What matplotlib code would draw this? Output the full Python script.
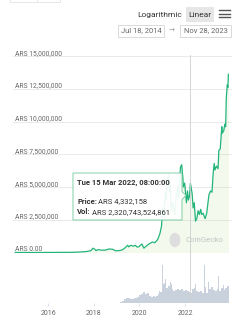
import matplotlib
matplotlib.use("Agg")
import matplotlib.pyplot as plt
import matplotlib.dates as mdates
from matplotlib.patches import Polygon, Rectangle, Circle
from matplotlib.transforms import offset_copy
from datetime import datetime
import numpy as np

plt.rcParams['font.family'] = ['Roboto', 'DejaVu Sans']

# ---------------- data ----------------
price_dates = [
    "2014-07-18", "2014-12-01", "2015-06-01", "2015-12-01", "2016-06-01", "2016-12-01",
    "2017-03-01", "2017-06-01", "2017-09-01", "2017-11-15", "2017-12-17", "2018-01-15",
    "2018-02-06", "2018-03-05", "2018-05-01", "2018-07-01", "2018-09-01", "2018-11-01",
    "2018-12-15", "2019-02-01", "2019-04-01", "2019-05-15", "2019-06-26", "2019-07-15",
    "2019-08-15", "2019-09-25", "2019-10-26", "2019-11-25", "2019-12-20", "2020-02-10",
    "2020-03-13", "2020-04-15", "2020-06-01", "2020-07-28", "2020-09-05", "2020-10-21",
    "2020-11-25", "2020-12-20", "2021-01-08", "2021-01-25", "2021-02-21", "2021-03-05",
    "2021-03-13", "2021-04-14", "2021-04-25", "2021-05-10", "2021-05-23", "2021-06-15",
    "2021-07-20", "2021-08-15", "2021-09-06", "2021-09-21", "2021-10-20", "2021-11-09",
    "2021-11-28", "2021-12-04", "2021-12-27", "2022-01-24", "2022-02-10", "2022-02-24",
    "2022-03-15", "2022-03-29", "2022-04-25", "2022-05-12", "2022-05-30", "2022-06-18",
    "2022-07-10", "2022-07-30", "2022-08-20", "2022-09-10", "2022-09-25", "2022-10-20",
    "2022-11-09", "2022-11-21", "2022-12-15", "2023-01-20", "2023-02-15", "2023-03-10",
    "2023-03-28", "2023-04-14", "2023-04-26", "2023-05-20", "2023-06-15", "2023-06-28",
    "2023-07-20", "2023-08-14", "2023-08-20", "2023-09-15", "2023-10-01", "2023-10-15",
    "2023-10-25", "2023-11-10", "2023-11-20", "2023-11-28",
]
price_values_m = [
    0.005, 0.003, 0.002, 0.004, 0.008, 0.013,
    0.02, 0.04, 0.07, 0.14, 0.33, 0.25,
    0.14, 0.22, 0.18, 0.18, 0.27, 0.24,
    0.13, 0.14, 0.20, 0.35, 0.55, 0.43,
    0.55, 0.48, 0.55, 0.42, 0.43, 0.65,
    0.33, 0.47, 0.65, 0.80, 0.75, 1.00,
    1.45, 2.00, 3.40, 2.80, 4.60, 4.00,
    5.40, 5.90, 4.60, 5.30, 3.20, 3.80,
    2.90, 4.40, 5.10, 4.10, 6.50, 6.70,
    5.70, 5.00, 5.30, 3.80, 4.70, 4.00,
    4.33, 5.30, 4.50, 3.40, 3.80, 2.40,
    2.60, 3.20, 2.90, 3.30, 2.90, 3.00,
    2.70, 2.60, 3.00, 4.40, 4.70, 4.60,
    6.00, 6.80, 6.30, 6.60, 6.40, 7.80,
    7.90, 9.60, 9.10, 9.30, 9.80, 9.60,
    11.80, 12.80, 12.60, 13.60,
]

vol_months = [
    "2019-02", "2019-03", "2019-04", "2019-05", "2019-06", "2019-07", "2019-08", "2019-09",
    "2019-10", "2019-11", "2019-12",
    "2020-01", "2020-02", "2020-03", "2020-04", "2020-05", "2020-06", "2020-07", "2020-08",
    "2020-09", "2020-10", "2020-11", "2020-12",
    "2021-01", "2021-02", "2021-03", "2021-04", "2021-05", "2021-06", "2021-07", "2021-08",
    "2021-09", "2021-10", "2021-11", "2021-12",
    "2022-01", "2022-02", "2022-03", "2022-04", "2022-05", "2022-06", "2022-07", "2022-08",
    "2022-09", "2022-10", "2022-11", "2022-12",
    "2023-01", "2023-02", "2023-03", "2023-04", "2023-05", "2023-06", "2023-07", "2023-08",
    "2023-09", "2023-10", "2023-11",
]
vol_values_t = [
    0.1, 0.3, 0.5, 0.8, 1.0, 1.0, 0.9, 0.9, 1.0, 1.1, 1.2,
    1.6, 1.8, 2.4, 1.9, 2.0, 1.4, 1.2, 1.4, 1.3, 1.4, 1.8, 2.3,
    4.0, 4.2, 3.2, 3.6, 4.0, 3.0, 2.6, 2.8, 2.9, 2.8, 2.9, 2.6,
    2.8, 2.5, 2.3, 2.2, 3.0, 3.2, 2.6, 2.4, 2.6, 2.2, 3.4, 2.0,
    3.0, 3.0, 3.4, 2.8, 2.6, 3.0, 2.6, 3.2, 2.8, 3.2, 3.6,
]
spike_dates = [
    "2020-03-12", "2020-11-20", "2021-01-05", "2021-01-12", "2021-02-22", "2021-03-15",
    "2021-04-18", "2021-05-12", "2021-05-19", "2021-06-21", "2021-07-20", "2021-09-07",
    "2021-12-04", "2022-01-21", "2022-05-09", "2022-06-13", "2022-06-18", "2022-09-13",
    "2022-11-09", "2022-11-14", "2023-01-14", "2023-02-20", "2023-03-13", "2023-05-01",
    "2023-06-21", "2023-08-17", "2023-09-11", "2023-10-24", "2023-11-09",
]
spike_values_t = [
    3.0, 2.5, 8.0, 5.5, 5.0, 4.0,
    6.0, 4.5, 6.2, 4.0, 4.6, 4.2,
    3.8, 3.8, 4.8, 5.2, 4.0, 3.6,
    8.0, 4.5, 4.5, 5.8, 6.4, 3.8,
    5.6, 5.4, 3.8, 8.2, 6.0,
]

ytick_values = [0, 2.5e6, 5e6, 7.5e6, 10e6, 12.5e6, 15e6]
ytick_labels = ["ARS 0.00", "ARS 2,500,000", "ARS 5,000,000", "ARS 7,500,000",
                "ARS 10,000,000", "ARS 12,500,000", "ARS 15,000,000"]
xtick_years = [2016, 2018, 2020, 2022]

tooltip_date = "2022-03-15"
tooltip_title = "Tue 15 Mar 2022, 08:00:00"
tooltip_price = "ARS 4,332,158"
tooltip_vol = "ARS 2,320,743,524,861"
range_start = "Jul 18, 2014"
range_end = "Nov 28, 2023"

# ---------------- layout helpers ----------------
W, H = 245, 320
fig = plt.figure(figsize=(W / 100, H / 100), dpi=100)
fig.patch.set_facecolor("white")

def fx(px):
    return px / W

def fy(py):
    return 1 - py / H

LINE = "#22b47a"
GRID = "#e6e6e6"
LAB = "#666666"
VOL = "#c9d1dd"

# x mapping (pixel anchors of year labels)
d16 = mdates.date2num(datetime(2016, 1, 1))
d22 = mdates.date2num(datetime(2022, 1, 1))
p16, p22 = 48.3, 185.0
ppd = (p22 - p16) / (d22 - d16)
AX_L, AX_R = 13, 232
xl = d16 - (p16 - AX_L) / ppd
xr = d16 + (AX_R - p16) / ppd

TOP, ZERO = 56.0, 252.5
VTOP, VBASE = 262.0, 303.0

ax = fig.add_axes([fx(AX_L), fy(ZERO), (AX_R - AX_L) / W, (ZERO - TOP) / H])
axv = fig.add_axes([fx(AX_L), fy(VBASE), (AX_R - AX_L) / W, (VBASE - VTOP) / H])
axo = fig.add_axes([fx(AX_L), fy(VBASE), (AX_R - AX_L) / W, (VBASE - 55) / H], zorder=5)

pdates = [datetime.strptime(d, "%Y-%m-%d") for d in price_dates]
pvals = np.array(price_values_m) * 1e6

for a in (ax, axv, axo):
    a.set_xlim(xl, xr)
    for s in a.spines.values():
        s.set_visible(False)
    a.set_facecolor("none")

# main chart
ax.set_ylim(0, 15e6)
for v in ytick_values:
    ax.axhline(v, color=GRID, lw=0.6, zorder=0)
ax.fill_between(pdates, pvals, 0, color="#8dc647", alpha=0.10, lw=0, zorder=1)
ax.plot(pdates, pvals, color=LINE, lw=0.9, zorder=3)
ax.set_xticks([])
ax.set_yticks([])
ytr = offset_copy(ax.get_yaxis_transform(), fig=fig, x=0, y=1.2, units="dots")
for v, lab in zip(ytick_values, ytick_labels):
    ax.text((15 - AX_L) / (AX_R - AX_L), v, lab, transform=ytr, fontsize=4.9,
            color=LAB, ha="left", va="baseline", zorder=4)

# volume chart
vdates = [datetime.strptime(d + "-15", "%Y-%m-%d") for d in vol_months]
axv.bar(vdates, vol_values_t, width=31, color=VOL, lw=0)
sdates = [datetime.strptime(d, "%Y-%m-%d") for d in spike_dates]
axv.bar(sdates, spike_values_t, width=4, color=VOL, lw=0)
axv.set_ylim(0, 8.6)
axv.set_yticks([])
axv.axhline(0, color="#d5dbe5", lw=0.7)
axv.set_xticks([mdates.date2num(datetime(y, 1, 1)) for y in xtick_years])
axv.set_xticklabels([str(y) for y in xtick_years])
axv.tick_params(axis="x", length=2.2, width=0.5, color="#ccd6eb", pad=2.5,
                labelsize=5, labelcolor=LAB)

# crosshair
axo.set_ylim(0, 1)
axo.axis("off")
axo.axvline(mdates.date2num(datetime.strptime(tooltip_date, "%Y-%m-%d")),
            color="#cfcfcf", lw=0.6)

# ---------------- tooltip ----------------
def P(px, py):
    return (fx(px), fy(py))

tip_pts = [P(73, 173), P(182, 173), P(182, 191.5), P(186, 195.5), P(182, 199.5),
           P(182, 220), P(73, 220)]
fig.patches.append(Polygon(tip_pts, closed=True, transform=fig.transFigure,
                           facecolor="white", alpha=0.92, edgecolor="none", zorder=10))
fig.patches.append(Polygon(tip_pts, closed=True, transform=fig.transFigure,
                           facecolor="none", edgecolor="#7fd0a8", lw=0.7, zorder=11))

TXT = "#333333"
FS = 5.5
fig.text(fx(77), fy(182), tooltip_title, fontsize=FS, fontweight="bold", color=TXT,
         va="center", ha="left", zorder=12)
fig.canvas.draw()
r = fig.canvas.get_renderer()
t1 = fig.text(fx(77), fy(201), "Price:", fontsize=FS, fontweight="bold", color=TXT,
              va="center", ha="left", zorder=12)
w1 = t1.get_window_extent(r).width
fig.text(fx(77 + w1 + 1.5), fy(201), tooltip_price, fontsize=FS, color=TXT,
         va="center", ha="left", zorder=12)
t2 = fig.text(fx(77), fy(212), "Vol:", fontsize=FS, fontweight="bold", color=TXT,
              va="center", ha="left", zorder=12)
w2 = t2.get_window_extent(r).width
fig.text(fx(77 + w2 + 1.5), fy(212), tooltip_vol, fontsize=FS, color=TXT,
         va="center", ha="left", zorder=12)

# watermark
fig.patches.append(Circle(P(175, 240), 5.5 / W, transform=fig.transFigure,
                          facecolor="#dedede", edgecolor="none", zorder=2))
fig.text(fx(185.5), fy(240.5), "CoinGecko", fontsize=5.7, color="#c4c4c4",
         va="center", ha="left")

# ---------------- header ----------------
fig.text(fx(182), fy(15), "Logarithmic", fontsize=6, color=TXT, ha="right", va="center")
fig.patches.append(Rectangle(P(186, 22), 28 / W, 15 / H, transform=fig.transFigure,
                             facecolor="#e6e6e6", edgecolor="none"))
fig.text(fx(200), fy(15), "Linear", fontsize=6, color=TXT, ha="center", va="center")
for yy in (10, 13.5, 17):
    fig.lines.append(plt.Line2D([fx(219), fx(230)], [fy(yy), fy(yy)],
                                transform=fig.transFigure, color="#555555", lw=1.0))

for (x0, x1, s) in ((118, 164, range_start), (180, 231, range_end)):
    fig.patches.append(Rectangle(P(x0, 37), (x1 - x0) / W, 12 / H, transform=fig.transFigure,
                                 facecolor="white", edgecolor="#cccccc", lw=0.5))
    fig.text(fx((x0 + x1) / 2), fy(31), s, fontsize=5.4, color=LAB, ha="center", va="center")
fig.text(fx(172), fy(31), "\u2192", fontsize=5, color="#999999", ha="center", va="center")

# partial control box at top-left
fig.patches.append(Rectangle(P(10, 1.5), 50 / W, 8 / H, transform=fig.transFigure,
                             facecolor="white", edgecolor="#dddddd", lw=0.5))
fig.lines.append(plt.Line2D([fx(37), fx(37)], [fy(1.5), fy(-5)], transform=fig.transFigure,
                            color="#dddddd", lw=0.5))

fig.savefig("out.png", dpi=100)
